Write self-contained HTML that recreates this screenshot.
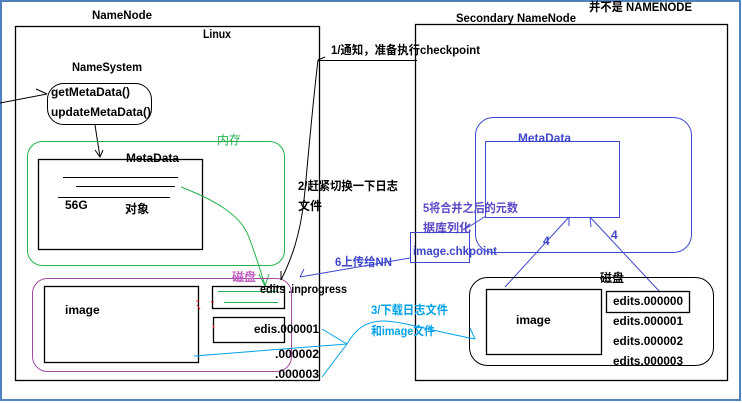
<!DOCTYPE html>
<html><head><meta charset="utf-8"><style>
html,body{margin:0;padding:0;background:#fff;}
svg{display:block;}
text{font-family:"Liberation Sans","Noto Sans CJK SC",sans-serif;font-size:12px;font-weight:bold;}
</style></head><body>
<svg width="742" height="403" viewBox="0 0 742 403" xmlns="http://www.w3.org/2000/svg">
<rect x="1" y="1" width="739" height="399" fill="none" stroke="#4f81bd" stroke-width="2"/>

<!-- NameNode -->
<rect x="15.5" y="26.5" width="304" height="354" fill="none" stroke="#000" stroke-width="1.3"/>
<text x="92" y="19" textLength="60" lengthAdjust="spacingAndGlyphs">NameNode</text>
<text x="203" y="38" textLength="28" lengthAdjust="spacingAndGlyphs">Linux</text>
<text x="72" y="71" textLength="70" lengthAdjust="spacingAndGlyphs">NameSystem</text>
<rect x="47.5" y="83.5" width="104" height="41" rx="16" ry="16" fill="none" stroke="#000"/>
<text x="51" y="96" textLength="79" lengthAdjust="spacingAndGlyphs">getMetaData()</text>
<text x="51" y="116" textLength="100" lengthAdjust="spacingAndGlyphs">updateMetaData()</text>
<line x1="0" y1="103" x2="47" y2="94" stroke="#000"/>
<line x1="36" y1="89" x2="47" y2="94" stroke="#000"/>
<line x1="95" y1="125" x2="100" y2="157" stroke="#000"/>
<polyline points="95,150 100,157 103,150" fill="none" stroke="#000"/>

<rect x="27.5" y="141.5" width="257" height="124" rx="15" ry="15" fill="none" stroke="#22b14c"/>
<text x="217" y="144" fill="#22b14c" style="font-weight:normal">内存</text>
<rect x="38.5" y="159.5" width="164" height="90" fill="none" stroke="#000" stroke-width="1.3"/>
<text x="126" y="162" textLength="53" lengthAdjust="spacingAndGlyphs">MetaData</text>
<line x1="63" y1="177.5" x2="178" y2="177.5" stroke="#000"/>
<line x1="76" y1="186.5" x2="175" y2="186.5" stroke="#000"/>
<line x1="58" y1="197.5" x2="170" y2="197.5" stroke="#000"/>
<text x="65" y="209">56G</text>
<text x="125" y="213">对象</text>
<path d="M181,187 C215,200 240,215 248,235 C256,255 260,270 265,285" fill="none" stroke="#22b14c"/>
<polyline points="259,274 265,286 269,274" fill="none" stroke="#22b14c"/>

<rect x="32.5" y="278.5" width="259" height="93" rx="15" ry="15" fill="none" stroke="#a349a4"/>
<text x="232" y="281" fill="#c060c0">磁盘</text>
<rect x="44.5" y="286.5" width="154" height="76" fill="none" stroke="#000" stroke-width="1.3"/>
<text x="65" y="314">image</text>
<rect x="212.5" y="286.5" width="72" height="22" fill="none" stroke="#000" stroke-width="1.3"/>
<line x1="218" y1="291.5" x2="277" y2="291.5" stroke="#22b14c"/>
<line x1="224" y1="302.5" x2="278" y2="302.5" stroke="#22b14c"/>
<text x="260" y="293" textLength="87" lengthAdjust="spacingAndGlyphs">edits .inprogress</text>
<rect x="213.5" y="317.5" width="71" height="25" fill="none" stroke="#000" stroke-width="1.3"/>
<text x="254" y="333" textLength="65" lengthAdjust="spacingAndGlyphs">edis.000001</text>
<text x="275" y="358" textLength="44" lengthAdjust="spacingAndGlyphs">.000002</text>
<text x="275" y="378" textLength="44" lengthAdjust="spacingAndGlyphs">.000003</text>
<g stroke="#ed1c24" stroke-width="1"><line x1="196" y1="301" x2="199" y2="301"/><line x1="197" y1="305" x2="200" y2="309"/><line x1="211" y1="302" x2="214" y2="302"/><line x1="213" y1="325" x2="214" y2="328"/></g>

<!-- 1/2 arrow -->
<line x1="318" y1="60.5" x2="417" y2="60.5" stroke="#000"/>
<line x1="318" y1="60" x2="325" y2="57" stroke="#000"/>
<path d="M318,60 C312,110 308,160 304,200 C300,235 292,258 281,280" fill="none" stroke="#000"/>
<line x1="281" y1="280" x2="281" y2="271" stroke="#000"/>
<text x="331" y="54" textLength="149" lengthAdjust="spacingAndGlyphs">1/通知，准备执行checkpoint</text>
<text x="298" y="190" textLength="100" lengthAdjust="spacingAndGlyphs">2/赶紧切换一下日志</text>
<text x="298" y="210">文件</text>

<!-- Secondary NameNode -->
<rect x="415.5" y="24.5" width="312" height="356" fill="none" stroke="#000" stroke-width="1.3"/>
<text x="456" y="22" textLength="120" lengthAdjust="spacingAndGlyphs">Secondary NameNode</text>
<text x="589" y="11" textLength="103" lengthAdjust="spacingAndGlyphs">并不是 NAMENODE</text>
<rect x="475.5" y="117.5" width="216" height="135" rx="18" ry="18" fill="none" stroke="#3f48cc"/>
<rect x="485.5" y="141.5" width="134" height="76" fill="none" stroke="#3f48cc"/>
<text x="518" y="142" fill="#3f48cc" textLength="53" lengthAdjust="spacingAndGlyphs">MetaData</text>
<text x="423" y="212" fill="#5a4ac8" textLength="95" lengthAdjust="spacingAndGlyphs">5将合并之后的元数</text>
<text x="423" y="232" fill="#5a4ac8">据库列化</text>
<line x1="467" y1="228" x2="486" y2="216" stroke="#3f48cc"/>
<rect x="410.5" y="232.5" width="59" height="30" fill="none" stroke="#3f48cc"/>
<text x="413" y="255" fill="#3f48cc" textLength="84" lengthAdjust="spacingAndGlyphs">image.chkpoint</text>
<line x1="410" y1="258" x2="300" y2="277" stroke="#3f48cc"/>
<line x1="304" y1="269" x2="300" y2="277" stroke="#3f48cc"/>
<text x="335" y="266" fill="#3f48cc" textLength="57" lengthAdjust="spacingAndGlyphs">6上传给NN</text>

<line x1="505" y1="287" x2="569" y2="217" stroke="#3f48cc"/>
<line x1="569" y1="217" x2="569" y2="226" stroke="#3f48cc"/>
<line x1="660" y1="292" x2="590" y2="217" stroke="#3f48cc"/>
<line x1="590" y1="217" x2="591" y2="227" stroke="#3f48cc"/>
<text x="543" y="245" fill="#3f48cc">4</text>
<text x="611" y="239" fill="#3f48cc">4</text>

<rect x="469.5" y="277.5" width="244" height="88" rx="18" ry="18" fill="none" stroke="#000"/>
<text x="600" y="282">磁盘</text>
<rect x="486.5" y="289.5" width="115" height="65" fill="none" stroke="#000" stroke-width="1.3"/>
<text x="516" y="324">image</text>
<rect x="606.5" y="291.5" width="83" height="21" fill="none" stroke="#000" stroke-width="1.3"/>
<text x="613" y="305" textLength="70" lengthAdjust="spacingAndGlyphs">edits.000000</text>
<text x="613" y="325" textLength="70" lengthAdjust="spacingAndGlyphs">edits.000001</text>
<text x="613" y="345" textLength="70" lengthAdjust="spacingAndGlyphs">edits.000002</text>
<text x="613" y="365" textLength="70" lengthAdjust="spacingAndGlyphs">edits.000003</text>

<!-- 3 cyan -->
<g stroke="#00a2e8" fill="none">
<line x1="322" y1="329" x2="347" y2="344"/>
<line x1="322" y1="377" x2="347" y2="344"/>
<line x1="194" y1="356" x2="347" y2="344"/>
<path d="M347,344 C355,330 365,321 383,321 C400,321 420,328 475,339"/>
<line x1="470" y1="328" x2="475" y2="339"/>
</g>
<text x="371" y="314" fill="#00a2e8" textLength="77" lengthAdjust="spacingAndGlyphs">3/下载日志文件</text>
<text x="371" y="335" fill="#00a2e8" textLength="64" lengthAdjust="spacingAndGlyphs">和image文件</text>
</svg>
</body></html>
